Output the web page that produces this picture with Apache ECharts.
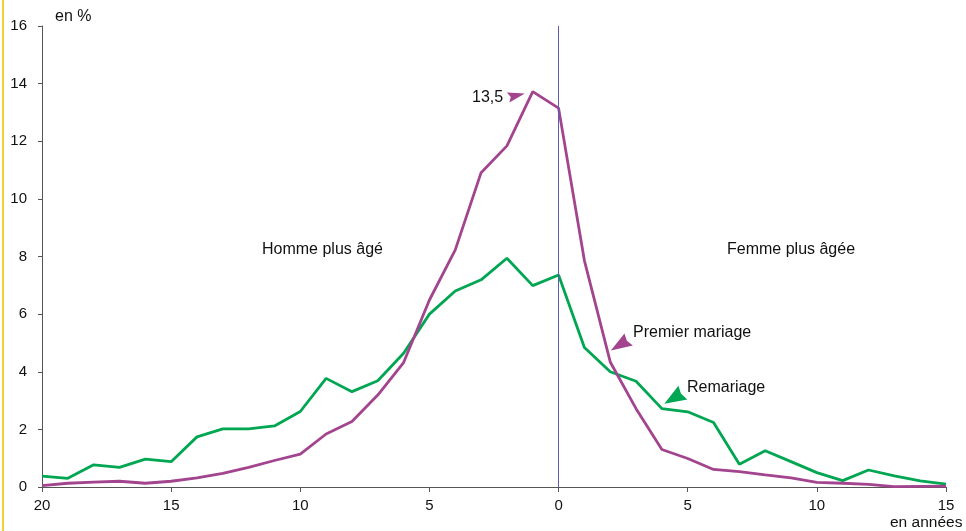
<!DOCTYPE html>
<html>
<head>
<meta charset="utf-8">
<script src="https://cdn.jsdelivr.net/npm/echarts@6/dist/echarts.min.js"></script>
<style>
html,body{margin:0;padding:0;background:#fff;}
#c{width:966px;height:531px;}
#edge{position:absolute;left:2px;top:0;width:2px;height:531px;background:#f2d230;}
</style>
</head>
<body>
<div id="edge"></div>
<div id="c"></div>
<script>
// écart d'âge (négatif = homme plus âgé, positif = femme plus âgée)
var ages = [-20,-19,-18,-17,-16,-15,-14,-13,-12,-11,-10,-9,-8,-7,-6,-5,-4,-3,-2,-1,0,1,2,3,4,5,6,7,8,9,10,11,12,13,14,15];
var premierMariage = [0.05,0.13,0.17,0.2,0.13,0.2,0.32,0.47,0.68,0.92,1.14,1.84,2.27,3.19,4.32,6.49,8.23,10.91,11.84,13.72,13.15,7.86,4.34,2.72,1.3,0.99,0.61,0.53,0.42,0.32,0.16,0.13,0.09,0.01,0.02,0.03];
var remariage = [0.38,0.3,0.77,0.68,0.97,0.88,1.74,2.02,2.02,2.12,2.62,3.77,3.31,3.69,4.64,6.0,6.8,7.19,7.94,6.99,7.36,4.84,4.0,3.67,2.72,2.61,2.24,0.79,1.26,0.88,0.5,0.22,0.59,0.39,0.21,0.1];
var yTicks = [0,2,4,6,8,10,12,14,16];

var PURPLE = '#a2448e', GREEN = '#00a651';
function pairs(v){ return ages.map(function(a,i){ return [a, v[i]]; }); }

var ARROW_DL = 'path://M0,16.7 L13.6,0 L16,7 L22,11.7 Z';
var ARROW_DL2 = 'path://M0,17.6 L14.3,0 L16.8,7.6 L23.3,13.3 Z';
var ARROW_R = 'path://M18.3,1 L0,0 L4,4.5 L2.6,10 Z';

var chart = echarts.init(document.getElementById('c'));
var txt = {fontFamily:'Liberation Sans, Arial, sans-serif', fontSize:16, fill:'#111'};
chart.setOption({
  animation:false,
  grid:{left:42,right:20,top:26,bottom:44},
  xAxis:{type:'value',min:-20,max:15,interval:5,
    axisLine:{show:true,onZero:false,lineStyle:{color:'#555',width:1}},
    axisTick:{show:true,length:5,lineStyle:{color:'#555'}},
    splitLine:{show:false},
    axisLabel:{margin:11,fontFamily:txt.fontFamily,fontSize:15,color:'#111',formatter:function(v){return String(Math.abs(v));}}
  },
  yAxis:{type:'value',min:0,max:16,interval:2,
    axisLine:{show:true,onZero:false,lineStyle:{color:'#555',width:1}},
    axisTick:{show:true,length:4,lineStyle:{color:'#555'}},
    splitLine:{show:false},
    axisLabel:{margin:15,fontFamily:txt.fontFamily,fontSize:15,color:'#111',formatter:function(v){return yTicks.indexOf(v)>=0?String(v):'';}}
  },
  series:[
    {name:'Remariage',type:'line',data:pairs(remariage),showSymbol:false,symbol:'none',
      lineStyle:{color:GREEN,width:2.8},itemStyle:{color:GREEN},z:3,
      markPoint:{silent:true,symbol:ARROW_DL2,symbolSize:[23,18],
        itemStyle:{color:GREEN},label:{show:false},
        data:[{coord:[4.54,3.2]}]}
    },
    {name:'Premier mariage',type:'line',data:pairs(premierMariage),showSymbol:false,symbol:'none',
      lineStyle:{color:PURPLE,width:2.8},itemStyle:{color:PURPLE},z:4,
      markLine:{silent:true,symbol:'none',label:{show:false},
        lineStyle:{color:'#5b5bb0',width:1,type:'solid'},
        data:[{xAxis:0}]},
      markPoint:{silent:true,itemStyle:{color:PURPLE},label:{show:false},
        data:[{coord:[2.45,5.03],symbol:ARROW_DL,symbolSize:[22,17]},
              {coord:[-1.655,13.52],symbol:ARROW_R,symbolSize:[18,10]}]}
    }
  ],
  graphic:[
    {type:'text',left:55,top:9,style:Object.assign({text:'en %'},txt)},
    {type:'text',left:262,top:242,style:Object.assign({text:'Homme plus âgé'},txt)},
    {type:'text',left:727,top:242,style:Object.assign({text:'Femme plus âgée'},txt)},
    {type:'text',left:633,top:325,style:Object.assign({text:'Premier mariage'},txt)},
    {type:'text',left:687,top:380,style:Object.assign({text:'Remariage'},txt)},
    {type:'text',left:472,top:90,style:Object.assign({text:'13,5'},txt)},
    {type:'text',left:890,top:515,style:Object.assign({},txt,{text:'en années',fontSize:15.5})}
  ]
});
</script>
</body>
</html>
